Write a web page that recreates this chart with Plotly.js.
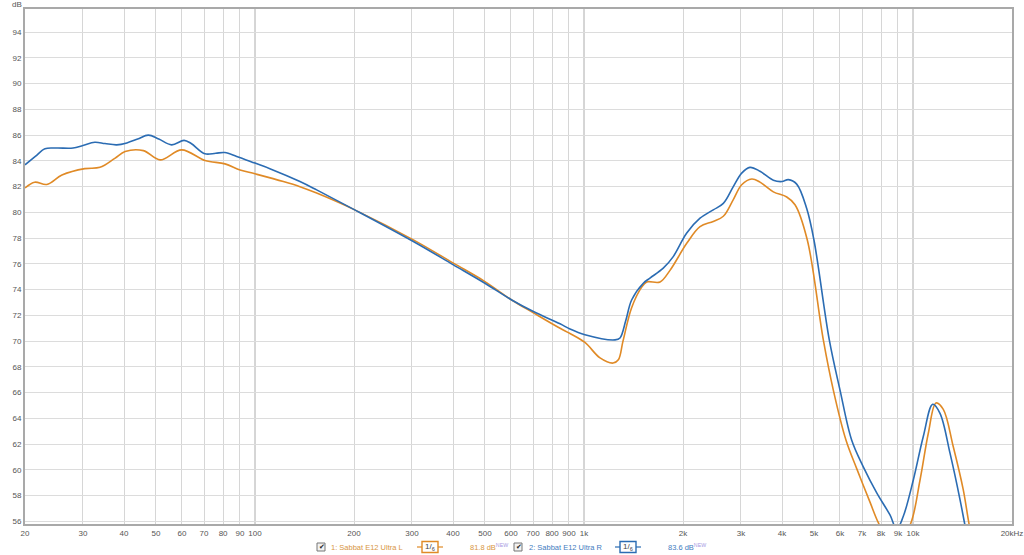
<!DOCTYPE html>
<html>
<head>
<meta charset="utf-8">
<script src="https://cdn.plot.ly/plotly-3.0.1.min.js"></script>
<style>html,body{margin:0;padding:0;background:#fff}#chart{width:1024px;height:555px}</style>
</head>
<body>
<div id="chart"></div>
<script>
// Series 1: Sabbat E12 Ultra L (orange)
const freqL = [20, 21.4, 23.3, 25.9, 30.4, 33.8, 37.5, 40.3, 45.8, 51.5, 59.9, 70.5, 81.1, 90.1, 100, 122, 137, 154, 201, 303, 401, 500, 603, 702, 846, 907, 1007, 1119, 1226, 1272, 1314, 1396, 1498, 1552, 1703, 1826, 2053, 2253, 2472, 2652, 2844, 3016, 3236, 3428, 3764, 4134, 4380, 4774, 5340, 5727, 6260, 6746, 7403, 7848, 8700, 9795, 10504, 11134, 11750, 12366, 13260, 14222, 14832, 15500];
const splL  = [81.9, 82.35, 82.17, 82.9, 83.4, 83.5, 84.2, 84.73, 84.8, 84.08, 84.86, 84.03, 83.77, 83.3, 83.0, 82.4, 82.0, 81.5, 80.2, 77.87, 76.06, 74.63, 73.2, 72.2, 71.0, 70.6, 69.9, 68.7, 68.3, 68.55, 70.0, 72.6, 74.2, 74.6, 74.6, 75.5, 77.6, 78.9, 79.3, 79.7, 81.0, 82.15, 82.6, 82.35, 81.6, 81.2, 80.6, 77.86, 70.1, 66.2, 62.3, 60.1, 57.5, 55.9, 53.8, 55.7, 59.2, 62.85, 65.2, 64.7, 61.8, 58.45, 55.7, 53.5];

// Series 2: Sabbat E12 Ultra R (blue)
const freqR = [20, 21.5, 23, 25, 28, 30, 32.6, 35, 38, 40.8, 44, 47.4, 51, 55.8, 60.9, 64, 70.5, 76, 81, 88, 100, 111, 137, 154, 201, 303, 401, 500, 603, 702, 846, 907, 1007, 1243, 1287, 1340, 1396, 1515, 1587, 1742, 1868, 2053, 2253, 2472, 2652, 2844, 3016, 3195, 3428, 3764, 4000, 4180, 4432, 4754, 5001, 5568, 6002, 6514, 7064, 7760, 8515, 8926, 9346, 10020, 10750, 11482, 12084, 12960, 13900, 14392, 15000];
const splR  = [83.7, 84.35, 84.95, 85.0, 85.0, 85.2, 85.45, 85.35, 85.25, 85.4, 85.7, 86.0, 85.7, 85.25, 85.6, 85.35, 84.55, 84.6, 84.65, 84.35, 83.83, 83.4, 82.4, 81.75, 80.2, 77.74, 75.93, 74.5, 73.2, 72.3, 71.35, 70.94, 70.5, 70.1, 70.25, 71.6, 73.2, 74.5, 74.9, 75.67, 76.57, 78.4, 79.55, 80.2, 80.7, 82.0, 83.05, 83.5, 83.2, 82.5, 82.4, 82.55, 82.2, 80.3, 77.86, 70.1, 66.2, 62.3, 60.24, 58.22, 56.5, 55.4, 56.4, 59.2, 62.6, 65.1, 64.4, 61.3, 57.7, 55.7, 53.5];

const xTickVals = [20,30,40,50,60,70,80,90,100,200,300,400,500,600,700,800,900,1000,2000,3000,4000,5000,6000,7000,8000,9000,10000,20000];
const xTickText = ['20','30','40','50','60','70','80','90','100','200','300','400','500','600','700','800','900','1k','2k','3k','4k','5k','6k','7k','8k','9k','10k','20kHz'];
const decadeLines = [100, 1000, 10000];

const seriesNames = ['1: Sabbat E12 Ultra L', '2: Sabbat E12 Ultra R'];
const seriesLevels = ['81.8 dB', '83.6 dB'];
const smoothingLabel = '1/<sub>6</sub>';

const ORANGE = '#e08a26';
const BLUE = '#2b6cb3';
const ORANGE_TXT = '#d8963f';
const BLUE_TXT = '#3f7cc0';
const FONT = 'Liberation Sans, Arial, sans-serif';

// plot area in pixels
const L = 25, R = 1012, T = 9, B = 524;
const px = x => (x - L) / (R - L);
const py = y => (B - y) / (B - T);

const traces = [
  {x: freqL, y: splL, type: 'scatter', mode: 'lines', line: {color: ORANGE, width: 1.6, shape: 'spline', smoothing: 1}, hoverinfo: 'skip'},
  {x: freqR, y: splR, type: 'scatter', mode: 'lines', line: {color: BLUE, width: 1.6, shape: 'spline', smoothing: 1}, hoverinfo: 'skip'}
];

const shapes = decadeLines.map(v => ({
  type: 'line', xref: 'x', yref: 'paper', x0: v, x1: v, y0: 0, y1: 1,
  line: {color: '#b4b4b4', width: 1.2}, layer: 'below'
}));

const annotations = [
  {xref: 'paper', yref: 'paper', x: px(17), y: py(4), text: 'dB', showarrow: false, font: {family: FONT, size: 8, color: '#555'}, xanchor: 'center', yanchor: 'middle'}
];

const rowY = 547;
const legendItems = [
  {cb: 317, text: 329, icon: 422, level: 468, color: ORANGE, tcolor: ORANGE_TXT},
  {cb: 514, text: 527, icon: 620, level: 666, color: BLUE, tcolor: BLUE_TXT}
];
legendItems.forEach((it, i) => {
  // checkbox
  shapes.push({type: 'rect', xref: 'paper', yref: 'paper', x0: px(it.cb), x1: px(it.cb + 8), y0: py(rowY - 4), y1: py(rowY + 4), line: {color: '#777', width: 1}, fillcolor: '#f2f2f2'});
  annotations.push({xref: 'paper', yref: 'paper', x: px(it.cb + 4.5), y: py(rowY), text: '✔', showarrow: false, font: {family: 'DejaVu Sans', size: 7, color: '#222'}, xanchor: 'center', yanchor: 'middle'});
  // name
  annotations.push({xref: 'paper', yref: 'paper', x: px(it.text), y: py(rowY), text: seriesNames[i], showarrow: false, font: {family: FONT, size: 7.5, color: it.tcolor}, xanchor: 'left', yanchor: 'middle'});
  // smoothing icon
  shapes.push({type: 'line', xref: 'paper', yref: 'paper', x0: px(it.icon - 5), x1: px(it.icon), y0: py(rowY), y1: py(rowY), line: {color: it.color, width: 1.2}});
  shapes.push({type: 'line', xref: 'paper', yref: 'paper', x0: px(it.icon + 16), x1: px(it.icon + 21), y0: py(rowY), y1: py(rowY), line: {color: it.color, width: 1.2}});
  shapes.push({type: 'rect', xref: 'paper', yref: 'paper', x0: px(it.icon), x1: px(it.icon + 16), y0: py(rowY - 5.5), y1: py(rowY + 5.5), line: {color: it.color, width: 1.4}, fillcolor: '#fff'});
  annotations.push({xref: 'paper', yref: 'paper', x: px(it.icon + 8), y: py(rowY), text: smoothingLabel, showarrow: false, font: {family: FONT, size: 8, color: '#444'}, xanchor: 'center', yanchor: 'middle'});
  // level
  annotations.push({xref: 'paper', yref: 'paper', x: px(it.level), y: py(rowY), text: seriesLevels[i] + '<sup><span style="color:#a698e2">NEW</span></sup>', showarrow: false, font: {family: FONT, size: 7.5, color: it.tcolor}, xanchor: 'left', yanchor: 'middle'});
});

const layout = {
  width: 1024, height: 555,
  margin: {l: L, r: 1024 - R, t: T, b: 555 - B, pad: 0},
  paper_bgcolor: '#fff', plot_bgcolor: '#fff',
  showlegend: false,
  font: {family: FONT, size: 8, color: '#555'},
  xaxis: {
    type: 'log', range: [Math.log10(20), Math.log10(20000)],
    tickmode: 'array', tickvals: xTickVals, ticktext: xTickText,
    showgrid: true, gridcolor: '#d6d6d6', gridwidth: 1,
    showline: true, linecolor: '#a9a9a9', linewidth: 2, mirror: true,
    ticks: '', zeroline: false,
    tickfont: {family: FONT, size: 8, color: '#555'}, automargin: false, fixedrange: true
  },
  yaxis: {
    range: [55.8, 95.8], tick0: 0, dtick: 2,
    showgrid: true, gridcolor: '#dcdcdc', gridwidth: 1,
    showline: true, linecolor: '#a9a9a9', linewidth: 2, mirror: true,
    ticks: '', zeroline: false,
    tickfont: {family: FONT, size: 8, color: '#555'}, automargin: false, fixedrange: true
  },
  shapes: shapes,
  annotations: annotations
};

Plotly.newPlot('chart', traces, layout, {staticPlot: true, displayModeBar: false});
</script>
</body>
</html>
